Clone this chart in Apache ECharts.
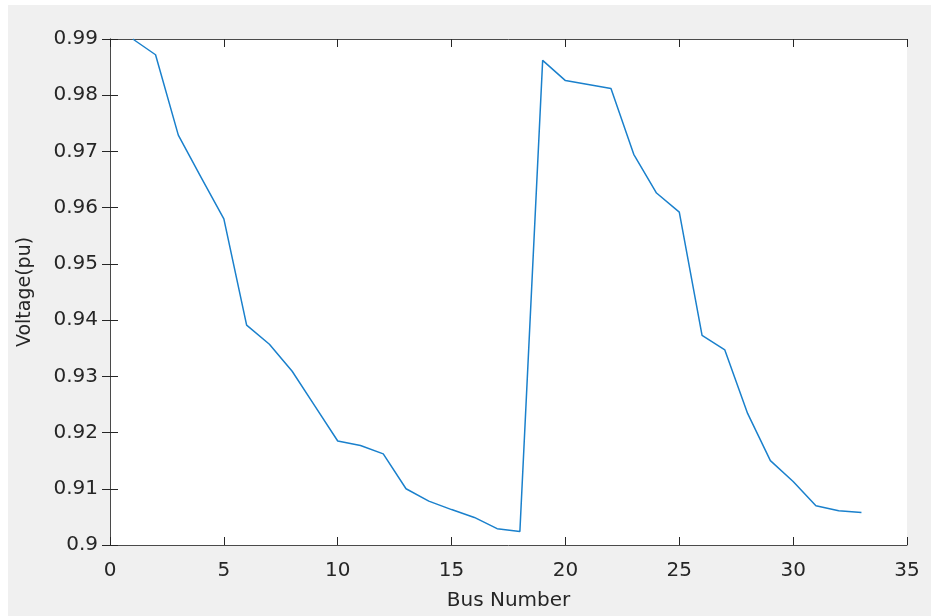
<!DOCTYPE html>
<html>
<head>
<meta charset="utf-8">
<script src="https://cdn.jsdelivr.net/npm/echarts@6/dist/echarts.min.js"></script>
<style>
html, body { margin: 0; padding: 0; background: #ffffff; }
#chart { width: 931px; height: 616px; }
</style>
</head>
<body>
<div id="chart"></div>
<script>
// bus numbers and voltage profile (pu)
var busNumbers = [1, 2, 3, 4, 5, 6, 7, 8, 9, 10, 11, 12, 13, 14, 15, 16, 17,
                  18, 19, 20, 21, 22, 23, 24, 25, 26, 27, 28, 29, 30, 31, 32, 33];
var voltages = [0.9900, 0.9872, 0.9729, 0.9654, 0.9580, 0.9391, 0.9357, 0.9309,
                0.9247, 0.9185, 0.9177, 0.9162, 0.9100, 0.9078, 0.9063, 0.9049,
                0.9029, 0.9024, 0.9862, 0.9826, 0.9819, 0.9812, 0.9695, 0.9626,
                0.9592, 0.9373, 0.9347, 0.9234, 0.9150, 0.9113, 0.9070, 0.9061, 0.9058];
var xTicks = [0, 5, 10, 15, 20, 25, 30, 35];
var yTicks = [0.9, 0.91, 0.92, 0.93, 0.94, 0.95, 0.96, 0.97, 0.98, 0.99];

var chart = echarts.init(document.getElementById('chart'));

var lineData = busNumbers.map(function (b, i) { return [b, voltages[i]]; });

var font = 'DejaVu Sans';
var axisCol = '#4a4a4a';
var textCol = '#262626';

function boxAxis(extra) {
    var base = {
        axisLine: { show: true, lineStyle: { color: axisCol, width: 1 } },
        axisTick: { show: true, inside: true, length: 8, lineStyle: { color: textCol } },
        splitLine: { show: false },
        axisLabel: { show: false }
    };
    return Object.assign(base, extra);
}

var option = {
    backgroundColor: '#ffffff',
    animation: false,
    graphic: [{
        type: 'rect',
        left: 8, top: 5, z: -1,
        shape: { width: 923, height: 611 },
        style: { fill: '#f0f0f0' }
    }],
    grid: {
        left: 110, top: 39, width: 797, height: 510,
        show: true, backgroundColor: '#ffffff', borderWidth: 0
    },
    xAxis: [
        boxAxis({
            type: 'value', position: 'bottom',
            min: xTicks[0], max: xTicks[xTicks.length - 1], interval: 5,
            axisLabel: { show: true, margin: 16, color: textCol, fontFamily: font, fontSize: 20 },
            name: 'Bus Number', nameLocation: 'middle', nameGap: 46,
            nameTextStyle: { color: textCol, fontFamily: font, fontSize: 20 }
        }),
        boxAxis({
            type: 'value', position: 'top',
            min: xTicks[0], max: xTicks[xTicks.length - 1], interval: 5
        })
    ],
    yAxis: [
        boxAxis({
            type: 'value', position: 'left',
            min: yTicks[0], max: yTicks[yTicks.length - 1], interval: 0.01,
            axisLabel: {
                show: true, margin: 12, color: textCol, fontFamily: font, fontSize: 20,
                formatter: function (v) { return String(+v.toFixed(2)); }
            },
            name: 'Voltage(pu)', nameLocation: 'middle', nameGap: 75, nameRotate: 90,
            nameTextStyle: { color: textCol, fontFamily: font, fontSize: 19 }
        }),
        boxAxis({
            type: 'value', position: 'right',
            min: yTicks[0], max: yTicks[yTicks.length - 1], interval: 0.01
        })
    ],
    series: [{
        type: 'line',
        data: lineData,
        showSymbol: false,
        clip: true,
        lineStyle: { color: '#1a80cc', width: 1.5 }
    }]
};

chart.setOption(option);
</script>
</body>
</html>
